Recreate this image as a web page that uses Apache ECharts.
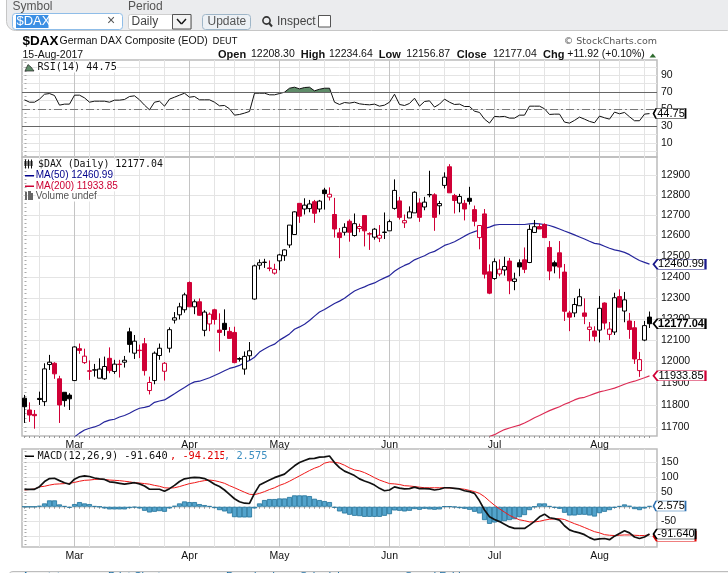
<!DOCTYPE html>
<html><head><meta charset="utf-8">
<style>html,body{margin:0;padding:0;background:#fff}#c{width:728px;height:573px}</style>
<script src="https://cdn.jsdelivr.net/npm/echarts@6/dist/echarts.min.js"></script>
</head><body><div id="c"></div>
<script>
const openP=[11831,11777,11757,11830,11815,11986,11992,11920,11858,11845,11912,12060,11995,11957,11960,11923,11920,12015,11954,11988,11997,12139,12039,12053,12083,11866,11912,12028,11955,12062,12194,12219,12243,12373,12257,12281,12146,12176,12243,12147,12179,12141,12136,12014,11965,12027,12294,12456,12469,12443,12418,12477,12502,12554,12605,12758,12730,12732,12766,12730,12824,12789,12703,12613,12616,12670,12600,12634,12698,12609,12592,12587,12615,12623,12733,12770,12662,12686,12711,12760,12740,12800,12800,12746,12847,12940,12797,12759,12758,12783,12727,12590,12706,12424,12392,12414,12433,12476,12378,12468,12482,12469,12615,12644,12654,12542,12468,12516,12423,12228,12228,12262,12228,12150,12143,12147,12275,12127,12138,12306,12237,12190,12158,11958,12100,12208.30];
const closeP=[11792,11754,11751,11825,11966,11997,11943,11800,11820,11828,12068,12052,12025,11955,11962,11965,11977,11958,11988,11986,12006,12080,12095,12051,11958,11903,12039,12062,11992,12149,12205,12257,12314,12257,12281,12217,12232,12222,12197,12136,12150,12108,11995,12011,12024,12050,12453,12468,12471,12440,12436,12506,12530,12651,12716,12695,12749,12755,12709,12769,12806,12803,12632,12590,12640,12616,12658,12644,12623,12607,12631,12601,12617,12668,12822,12689,12673,12716,12813,12689,12764,12802,12689,12757,12888,12810,12772,12792,12730,12768,12670,12649,12413,12322,12473,12437,12450,12381,12390,12448,12436,12630,12643,12632,12590,12428,12452,12447,12236,12208,12268,12305,12212,12161,12118,12250,12180,12152,12300,12255,12290,12150,12012,12009,12168,12177.04];
const lowP=[11718,11723,11692,11800,11795,11961,11920,11718,11792,11777,11910,12036,11989,11915,11930,11923,11915,11946,11943,11926,11972,12042,12012,12016,11935,11848,11895,12008,11912,12042,12178,12197,12229,12257,12222,12215,12118,12142,12173,12047,12120,12108,11992,12000,11939,12005,12291,12435,12443,12427,12411,12432,12477,12540,12603,12662,12703,12714,12662,12714,12727,12772,12590,12490,12600,12570,12595,12616,12547,12530,12580,12568,12583,12623,12727,12678,12637,12686,12711,12667,12724,12788,12623,12703,12832,12810,12708,12714,12674,12752,12645,12533,12392,12317,12386,12403,12406,12317,12336,12403,12418,12466,12613,12632,12590,12384,12417,12392,12190,12142,12208,12262,12175,12095,12095,12089,12150,12100,12124,12255,12184,12106,11989,11929,12095,12156.87];
const highP=[11846,11812,11777,11861,11992,12031,11997,11934,11858,11854,12071,12084,12060,12005,11989,12015,12023,12066,12008,12008,12026,12158,12124,12079,12110,11930,12047,12084,11998,12160,12232,12276,12324,12378,12292,12297,12241,12230,12248,12226,12245,12161,12163,12020,12047,12091,12459,12484,12487,12479,12463,12511,12533,12651,12719,12758,12783,12775,12775,12775,12835,12837,12785,12637,12660,12679,12708,12658,12698,12616,12637,12651,12713,12678,12877,12790,12703,12743,12818,12783,12790,12920,12808,12770,12912,12953,12805,12805,12775,12840,12747,12651,12730,12460,12489,12484,12497,12491,12420,12484,12542,12653,12676,12658,12660,12573,12478,12573,12462,12238,12299,12343,12297,12185,12165,12308,12278,12185,12324,12340,12328,12228,12190,12045,12190,12234.64];
const ma50Start=10;
const ma50=[11655,11672,11686,11694,11700,11709,11723,11731,11735,11745,11752,11762,11775,11785,11789,11795,11812,11818,11823,11837,11851,11866,11880,11895,11906,11909,11917,11925,11935,11946,11957,11968,11974,11982,11995,12005,12020,12044,12058,12071,12081,12100,12114,12129,12151,12162,12175,12192,12213,12232,12244,12259,12273,12284,12298,12316,12332,12343,12352,12363,12371,12384,12395,12406,12427,12443,12455,12465,12482,12492,12502,12515,12523,12537,12552,12560,12570,12583,12597,12610,12619,12627,12635,12641,12651,12654,12654,12654,12654,12654,12654,12657,12659,12657,12654,12649,12641,12632,12622,12613,12603,12593,12583,12572,12562,12558,12548,12538,12530,12525,12518,12507,12492,12479,12470,12460.99];
const ma200Start=93;
const ma200=[11657,11665,11677,11688,11695,11702,11708,11718,11729,11742,11752,11763,11774,11783,11792,11803,11812,11823,11831,11835,11843,11852,11860,11865,11871,11877,11886,11895,11903,11909,11917,11925,11933.85];
const rsi=[61,58.2,58.2,61.8,67.6,68.4,66.1,54.7,55.9,55.9,66.5,66.5,63.3,58.2,59.4,59.4,59.4,58.2,60.6,60.6,61.4,64.9,65.7,61,54.7,49.2,58.2,59.4,53.5,61.8,64.1,66.5,68.8,64.1,64.9,61,61,61,58.2,53.9,54.3,50.4,42.9,43.7,45.3,47.3,68.8,68.8,68.8,66.9,66.9,68.4,70,74.7,75.9,73.9,75.5,75.9,71.6,73.5,74.7,74.7,58.2,55.5,57.8,57.1,58.2,56.3,55.5,55.1,55.9,53.5,54.7,58.2,67.6,55.5,54.3,56.7,62.9,53.5,59,59.8,52.4,55.9,61.8,58.2,55.5,55.9,53.1,53.1,47.6,46.1,38.2,33.5,41.4,41,41.4,39.4,39.4,42.9,42.9,53.5,53.5,53.5,50.4,43.7,44.1,44.1,34.7,33.5,36.7,40.6,38.2,35.5,33.9,41.8,39.8,38.2,46.5,44.5,46.1,41,36.3,36.3,44.1,44.75];
const macd=[58.8,58.8,58.8,67.8,84.8,94.9,96,88,81,76,93,101,104,102,97,94,92,84,82,79,76,79,81,77,70,59,59,59,52,61,72,85,94,97,99,98,95,87,76,68,56.5,42,27,17,12,11,45,73,82,90,98,104,110,124,138,149,156,162,163,167,168,171,149,132,120,113,105,94,87,81,73,62,54,56.5,67,63,60,61,66,61,61,60,56.5,59,64,64,62,60,54,51,45,20,-11,-34,-43,-50,-59,-68,-73,-73,-73,-62,-49,-34,-25,-37,-40,-45,-64,-78,-84,-88,-94,-104,-111,-108,-107,-111,-99,-90,-81,-88,-102,-107,-102,-91.64];
const signal=[56.5,58,60,67,69,73,76,77,78,79,82,86,89,90,92,93,92,90,89,88,86,84,81,80,78,76,72,69,64,63,64,68,73,78,81,85,88,90,88,84,79,71,64,56.5,49,42,41,45,51,58,64,72,78,86,95,104,113,122,130,136,147,151,150,147,140,131,124,121,115,107,98,90,84,78,77,75,71,70,68,66,64,64,64,64,64,63,62,61,59,55,51,45,34,19,5,-7,-18,-29,-37,-44,-47,-51,-51,-49,-45,-42,-41,-40,-43,-50,-57,-63,-70,-77,-84,-88,-94,-96,-97,-96,-95,-95,-96,-97,-97,-94.215];
const hist=[0,0,0,3.4,11.3,21.5,21.5,7.9,2.3,-3.4,9,15.8,11.3,9,2.3,0,-5.7,-9,-9,-9,-9,-4.5,-2.3,-5.7,-13.6,-19.2,-17,-14.7,-17,-5.7,3.4,11.3,18,15.8,15.8,9,5.7,2.3,-4.5,-11.3,-15.8,-22.6,-35,-36,-36,-36,-5.7,11.3,22.6,26,26,28,28,33,38.4,38.4,38.4,36,27,22.6,19.2,15.8,-3.4,-15.8,-22.6,-27,-30.5,-31.6,-34,-34,-34,-34,-30.5,-25,-12.4,-13.6,-15.8,-13.6,-7.9,-10.2,-6.8,-9,-10.2,-9,1.1,1.1,-1.1,-4.5,-6.8,-10.2,-17,-22.6,-45,-57.6,-53,-51,-48.6,-45,-42,-35,-28,-11.3,0,11.3,11.3,2.3,-3.4,-6.8,-20.3,-29.4,-29.4,-27,-27,-29.4,-33,-21.5,-17,-11.3,-3.4,2.3,7.9,3.4,-7.9,-11.3,-5.7,2.575];
const monthLabels=['Mar','Apr','May','Jun','Jul','Aug'];
const monthIdx=[10,33,51,73,94,115];
const weekIdx=[3,13,18,23,28,38,42,46,55,60,65,70,75,79,84,89,99,104,109,119,124];
const priceTicks=[11700,11800,11900,12000,12100,12200,12300,12400,12500,12600,12700,12800,12900];
const rsiLabels=[90,70,50,30,10];
const rsiGrid=[0,10,20,30,40,50,60,70,80,90,100];
const macdTicks=[150,100,50,0,-50,-100];

const RED='#d00036',BLACK='#000',BLUE='#25259b',PINK='#dc2c55';
const lg=Math.log;
const dayIdx=openP.map((_,i)=>i);
const candles=openP.map((o,i)=>{
  const col=(i===0||closeP[i]>closeP[i-1])?BLACK:RED;
  const fill=closeP[i]>o?'#fff':col;
  return {value:[i,lg(o),lg(closeP[i]),lg(lowP[i]),lg(highP[i])],
    itemStyle:{color:fill,color0:fill,borderColor:col,borderColor0:col,borderColorDoji:col}};
});
function pts(arr,start,f){return arr.map((v,i)=>[i+start,f?f(v):v]);}
const obPts=[];
rsi.forEach((v,i)=>{
  const p=i?rsi[i-1]:v;
  if((p<=70&&v>70)||(p>70&&v<=70)) obPts.push([i-1+(70-p)/(v-p),70]);
  if(v>70) obPts.push([i,v]);
});

const grids=[{left:22,width:635,top:60,height:97},{left:22,width:635,top:157,height:279},{left:22,width:635,top:449,height:98}];
const xAxes=[],yAxes=[];
grids.forEach((g,gi)=>{
  const base={type:'value',gridIndex:gi,min:-0.5,max:126.5,position:'bottom',axisLine:{show:false},splitLine:{show:false},axisTick:{show:false},axisLabel:{show:false}};
  xAxes.push({...base,axisTick:{show:gi!==0,length:2,inside:false,lineStyle:{color:'#999',width:1},customValues:dayIdx}});
  xAxes.push({...base,axisTick:{show:false,customValues:weekIdx},splitLine:{show:true,lineStyle:{color:'#e4e4e4',width:1}}});
  xAxes.push({...base,axisTick:{show:false,customValues:monthIdx},splitLine:{show:true,lineStyle:{color:'#c4c4c4',width:1}},
    axisLabel:{show:gi!==0,customValues:monthIdx,margin:4,fontFamily:'Liberation Sans',fontSize:10.5,color:'#111',
      formatter:v=>monthLabels[monthIdx.indexOf(Math.round(v))]||''}});
});
const ylab={fontFamily:'Liberation Sans',fontSize:10.5,color:'#111',margin:4};
function yPair(gi,min,max,grid,labels,fmt,minor){
  yAxes.push({type:'value',gridIndex:gi,position:'right',min,max,axisLine:{show:false},
    axisTick:{show:false,customValues:grid},splitLine:{show:true,lineStyle:{color:'#e4e4e4',width:1}},
    axisLabel:{...ylab,customValues:labels,formatter:fmt}});
  yAxes.push({type:'value',gridIndex:gi,position:'right',min,max,axisLine:{show:false},splitLine:{show:false},axisLabel:{show:false},
    axisTick:{show:true,length:2,lineStyle:{color:'#aaa',width:1},customValues:minor}});
}
const step=(a,b,s)=>{const r=[];for(let v=a;v<=b+1e-6;v+=s)r.push(v);return r;};
yPair(0,-6.5,108,rsiGrid,rsiLabels,v=>String(Math.round(v)),step(-5,105,5));
yPair(1,lg(11659),lg(12989),priceTicks.map(lg),priceTicks.map(lg),v=>String(Math.round(Math.exp(v))),step(11660,12980,20).map(lg));
yPair(2,-135.6,194.6,macdTicks,macdTicks,v=>String(Math.round(v)),step(-125,187.5,12.5));

const tagPath='path://M0 5 L4 0 L50 0 L50 10 L4 10 Z';
function tag(y,text,color,wide,bold,z){
  const w=wide||52, dx=4+w/2;
  return {silent:true,animation:false,z:z||5,data:[{coord:[125,y],symbol:tagPath,symbolKeepAspect:false,symbolSize:[w,10],symbolOffset:[dx,0],
    itemStyle:{color:'#fff',borderColor:color,borderWidth:1,opacity:1},
    label:{show:true,position:'inside',formatter:text,offset:[1.5,0],color:'#000',fontFamily:'Liberation Sans',fontSize:11,fontWeight:bold?'bold':'normal'}}]};
}
const hl=(y,type,c)=>({yAxis:y,lineStyle:{type,color:c,width:1}});

const option={animation:false,backgroundColor:'#fff',
 grid:grids.map(g=>({...g,show:true,borderColor:'#bcbcbc',borderWidth:1.5,backgroundColor:'transparent',containLabel:false})),
 xAxis:xAxes,yAxis:yAxes,
 series:[
  {name:'RSI overbought',type:'line',xAxisIndex:0,yAxisIndex:0,data:obPts,showSymbol:false,symbol:'none',lineStyle:{width:0},areaStyle:{origin:70,color:'#5f8c69',opacity:1},z:2},
  {name:'RSI(14)',type:'line',xAxisIndex:0,yAxisIndex:0,data:pts(rsi,0),showSymbol:false,symbol:'none',lineStyle:{color:'#111',width:1},z:3,
    markLine:{silent:true,symbol:'none',label:{show:false},animation:false,data:[hl(70,'solid','#666'),hl(30,'solid','#666'),hl(50,[8,3,2,3],'#777')]},
    markPoint:tag(rsi[125],'44.75','#000',32)},
  {name:'$DAX',type:'candlestick',xAxisIndex:3,yAxisIndex:2,data:candles,encode:{x:0,y:[1,2,3,4]},barWidth:5,itemStyle:{borderWidth:1},z:4,
    markPoint:tag(lg(closeP[125]),'12177.04','#000',52,true,7)},
  {name:'MA(50)',type:'line',xAxisIndex:3,yAxisIndex:2,data:pts(ma50,ma50Start,lg),showSymbol:false,symbol:'none',lineStyle:{color:BLUE,width:1.2},z:3,
    markPoint:tag(lg(ma50[ma50.length-1]),'12460.99','#1a1a8c')},
  {name:'MA(200)',type:'line',xAxisIndex:3,yAxisIndex:2,data:pts(ma200,ma200Start,lg),showSymbol:false,symbol:'none',lineStyle:{color:PINK,width:1.2},z:3,
    markPoint:tag(lg(ma200[ma200.length-1]),'11933.85',RED)},
  {name:'Histogram',type:'bar',xAxisIndex:6,yAxisIndex:4,data:pts(hist,0),barWidth:5,itemStyle:{color:'#52a3cc',borderColor:'#1f7199',borderWidth:0.8},z:2,
    markPoint:tag(hist[125],'2.575','#2b6fb0',32)},
  {name:'Signal',type:'line',xAxisIndex:6,yAxisIndex:4,data:pts(signal,0),showSymbol:false,symbol:'none',lineStyle:{color:'#f01818',width:1},z:3,
    markPoint:tag(signal[125]-5,'-94.215','#e00000',42,false,5)},
  {name:'MACD',type:'line',xAxisIndex:6,yAxisIndex:4,data:pts(macd,0),showSymbol:false,symbol:'none',lineStyle:{color:'#111',width:1.7},z:4,
    markPoint:tag(macd[125],'-91.640','#000',42,false,7)}
 ],
 graphic:{elements:[]}
};
const SANS='Liberation Sans',MONO='DejaVu Sans Mono',DJ='DejaVu Sans';
const G=option.graphic.elements;
function T(x,y,text,font,fill,ext){G.push({type:'text',z:100,silent:true,style:{x,y,text,font,fill,verticalAlign:'middle',align:'left',...(ext||{})}});}
function R(x,y,w,h,fill,stroke,r,lw){G.push({type:'rect',z:99,silent:true,shape:{x,y,width:w,height:h,r:r||0},style:{fill:fill||'none',stroke:stroke||'none',lineWidth:lw||1}});}
function L(x1,y1,x2,y2,c,lw){G.push({type:'line',z:100,silent:true,shape:{x1,y1,x2,y2},style:{stroke:c,lineWidth:lw||1}});}
R(6.5,-12,730,42.5,'#ebecee','#c6c6c6',9);
T(12.5,7,'Symbol','12px '+SANS,'#555');
T(128,7,'Period','12px '+SANS,'#555');
R(12.5,13.5,110,16,'#fff','#8fbde8',3);
R(16,15,32.5,13,'#3b8fe4');
T(16.5,21.7,'$DAX','13px '+SANS,'#fff');
T(107,21,'×','14px '+SANS,'#555');
R(128.5,14.5,63,15,'#fff','#cfcfcf',2);
T(131.5,22,'Daily','12px '+SANS,'#444');
R(172.5,14.5,18.5,14.5,'#f2f2f2','#555');
L(177,19,181.5,24,'#111',1.4);L(181.5,24,186,19,'#111',1.4);
R(202.5,14.5,48,15,'#edf1f5','#9fb6c8',3);
T(207.5,22,'Update','12px '+SANS,'#555');
G.push({type:'circle',z:100,silent:true,shape:{cx:266.5,cy:20.5,r:3.6},style:{fill:'none',stroke:'#333',lineWidth:1.6}});
L(269,23,272,26.5,'#333',2);
T(277,22,'Inspect','12px '+SANS,'#444');
R(318.5,15.5,12,11.5,'#fff','#555');
T(22.5,41,'$DAX','bold 13.5px '+SANS,'#000');
T(59.5,41,'German DAX Composite (EOD)','10.5px '+SANS,'#111');
T(212.5,41.5,'DEUT','9px '+DJ,'#111');
T(657,41.5,'© StockCharts.com','9.5px '+DJ,'#555',{align:'right'});
T(22.5,55,'15-Aug-2017','10.5px '+SANS,'#111');
[[218,'Open',1],[251,'12208.30'],[300.7,'High',1],[329,'12234.64'],[378.7,'Low',1],[406.3,'12156.87'],[456.7,'Close',1],[493,'12177.04'],[543,'Chg',1],[567.3,'+11.92 (+0.10%)']].forEach(a=>T(a[0],54.5,a[1],(a[2]?'bold 11px ':'10.5px ')+SANS,'#111'));
G.push({type:'polygon',z:100,silent:true,shape:{points:[[649.5,57.5],[656,57.5],[652.75,53.5]]},style:{fill:'#2e6b2e'}});
G.push({type:'polygon',z:100,silent:true,shape:{points:[[25,71],[28,64.5],[31,67],[34,71]]},style:{fill:'#5f8c69',stroke:'#222',lineWidth:0.7}});
T(37.5,67.5,'RSI(14) 44.75','10.15px '+MONO,'#111',{backgroundColor:'#fff'});
[25.5,28.5,31.5].forEach(x=>{L(x,159.5,x,168.5,'#111',1);R(x-1,161,2,5,'#111');});
T(38,164.3,'$DAX (Daily) 12177.04','9.9px '+MONO,'#111',{backgroundColor:'#fff'});
R(25,175,9,1.5,'#00008b');
T(35.7,175.7,'MA(50) 12460.99','10px '+SANS,'#00008b',{backgroundColor:'#fff'});
R(25,185.5,9,1.5,'#cc0033');
T(35.7,186.3,'MA(200) 11933.85','10px '+SANS,'#cc0033',{backgroundColor:'#fff'});
[[25,192,2],[28,191,3],[31,193,2]].forEach(a=>R(a[0],a[1],a[2],200-a[1],'#666'));
T(35.7,196.5,'Volume undef','10px '+SANS,'#555',{backgroundColor:'#fff'});
R(25,455.5,9,1.5,'#000');
const y0=456.3;
T(37.5,y0,'MACD(12,26,9) -91.640','10.3px '+MONO,'#111',{backgroundColor:'#fff'});
T(170,y0,', -94.215','10.3px '+MONO,'#e00000',{backgroundColor:'#fff'});
T(224,y0,', 2.575','10.3px '+MONO,'#3d8fc0',{backgroundColor:'#fff'});
R(8,571.5,740,12,'#f1f1f1','#bdbdbd',5);
[[22,'Annotate'],[108,'Print Chart'],[226,'Download'],[300,'Schedule'],[405,'Saved Folder']].forEach(a=>T(a[0],577,a[1],'11px '+SANS,'#1c6ea4'));
echarts.init(document.getElementById('c'),null,{renderer:'canvas'}).setOption(option);
</script></body></html>
